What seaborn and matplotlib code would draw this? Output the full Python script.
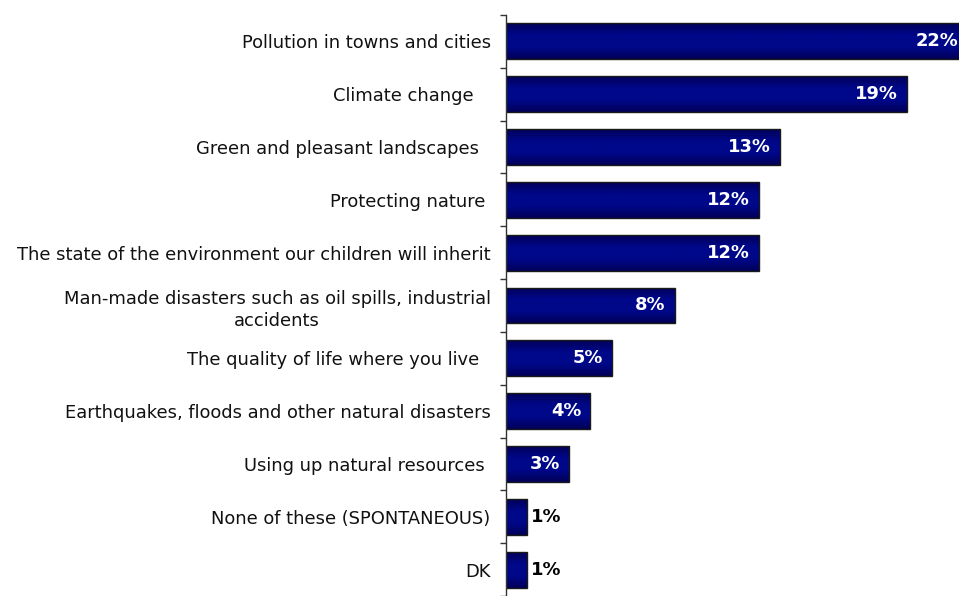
import matplotlib
matplotlib.use("Agg")
import matplotlib.pyplot as plt
from matplotlib.colors import LinearSegmentedColormap
import seaborn as sns
import pandas as pd
import numpy as np

categories = [
    "Pollution in towns and cities",
    "Climate change   ",
    "Green and pleasant landscapes  ",
    "Protecting nature ",
    "The state of the environment our children will inherit",
    "Man-made disasters such as oil spills, industrial\naccidents",
    "The quality of life where you live  ",
    "Earthquakes, floods and other natural disasters",
    "Using up natural resources ",
    "None of these (SPONTANEOUS)",
    "DK",
]
values = [22, 19, 13, 12, 12, 8, 5, 4, 3, 1, 1]

df = pd.DataFrame({"category": categories, "value": values})

sns.set_theme(style="white")
plt.rcParams["font.family"] = ["DejaVu Sans"]

FS = 12.9

fig = plt.figure(figsize=(9.59, 5.96), dpi=100)
ax = fig.add_axes([506 / 959, 0.0, 1 - 506 / 959, 1 - 15 / 596])

sns.barplot(data=df, x="value", y="category", orient="h", ax=ax,
            color="#000080", saturation=1, width=0.68,
            edgecolor="#1a1a1a", linewidth=1.0)

xmax = (959 - 506) / 21.1
ax.set_xlim(0, xmax)
ax.set_ylim(len(categories) - 0.5, -0.5)
ax.set_xlabel("")
ax.set_ylabel("")
ax.set_xticks([])

# soft vertical shading inside each bar
shade = LinearSegmentedColormap.from_list(
    "navy_shade", ["#000058", "#00088a", "#00088a", "#000058"])
grad = np.linspace(0, 1, 64).reshape(-1, 1)
for patch in ax.patches:
    x0, y0 = patch.get_x(), patch.get_y()
    w, h = patch.get_width(), patch.get_height()
    im = ax.imshow(grad, cmap=shade, aspect="auto", interpolation="bilinear",
                   extent=(x0, x0 + w, y0 + h, y0), zorder=patch.get_zorder() + 0.1)
    im.set_clip_path(patch)
    patch.set_facecolor("none")
    patch.set_zorder(patch.get_zorder() + 0.2)
ax.set_xlim(0, xmax)
ax.set_ylim(len(categories) - 0.5, -0.5)

for side in ("top", "right", "bottom"):
    ax.spines[side].set_visible(False)
ax.spines["left"].set_color("#333333")
ax.spines["left"].set_linewidth(1.0)

# tick marks sit on category boundaries, labels at category centres
ax.set_yticks(np.arange(-0.5, len(categories), 1.0), minor=True)
ax.tick_params(axis="y", which="minor", left=True, length=4, width=1, color="#333333")
ax.tick_params(axis="y", which="major", left=False, length=0, pad=11,
               labelsize=FS, labelcolor="#111111")
for lbl in ax.get_yticklabels():
    lbl.set_multialignment("center")
    lbl.set_linespacing(1.35)

for i, v in enumerate(values):
    if v >= 3:
        ax.annotate(f"{v}%", xy=(min(v, xmax), i), xytext=(-9 if v <= xmax else -1, 0),
                    textcoords="offset pixels", ha="right", va="center",
                    color="white", fontweight="bold", fontsize=FS, zorder=5)
    else:
        ax.annotate(f"{v}%", xy=(v, i), xytext=(4, 0), textcoords="offset pixels",
                    ha="left", va="center", color="black", fontweight="bold",
                    fontsize=FS, zorder=5)

fig.savefig("out.png", dpi=100)
